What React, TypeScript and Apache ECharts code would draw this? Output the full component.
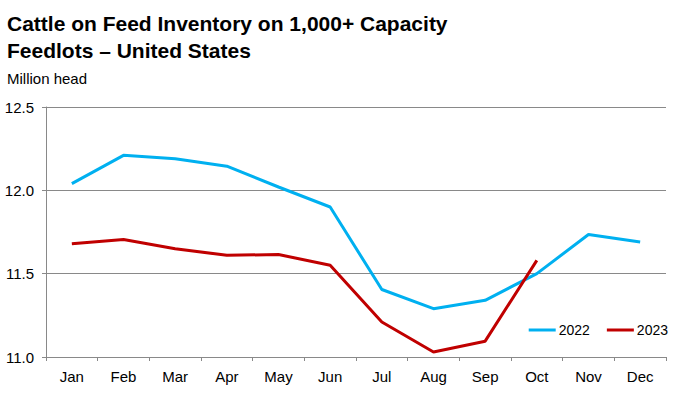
import React, { useEffect, useRef } from "react";
import * as echarts from "echarts";

const months = ["Jan", "Feb", "Mar", "Apr", "May", "Jun", "Jul", "Aug", "Sep", "Oct", "Nov", "Dec"];
const values2022 = [12.04, 12.21, 12.19, 12.145, 12.02, 11.9, 11.405, 11.29, 11.34, 11.5, 11.735, 11.69];
const values2023 = [11.68, 11.705, 11.65, 11.61, 11.615, 11.55, 11.21, 11.03, 11.095, 11.58];
const yTicks = { min: 11.0, max: 12.5, interval: 0.5 };

const FONT = "Liberation Sans, Arial, sans-serif";

export default function App() {
  const ref = useRef<HTMLDivElement>(null);
  useEffect(() => {
    if (!ref.current) return;
    const chart = echarts.init(ref.current, undefined, { renderer: "svg" });
    chart.setOption({
      animation: false,
      backgroundColor: "#ffffff",
      textStyle: { fontFamily: FONT },
      title: [
        {
          text: "Cattle on Feed Inventory on 1,000+ Capacity\nFeedlots – United States",
          left: 2,
          top: 5,
          textStyle: { fontFamily: FONT, fontSize: 21, fontWeight: "bold", color: "#000", lineHeight: 27 },
        },
        {
          text: "Million head",
          left: 2,
          top: 66,
          textStyle: { fontFamily: FONT, fontSize: 15, fontWeight: "normal", color: "#000" },
        },
      ],
      legend: {
        right: 2,
        top: 318,
        itemWidth: 27,
        itemHeight: 3,
        itemGap: 17,
        icon: "rect",
        textStyle: { fontFamily: FONT, fontSize: 14, color: "#000", padding: [0, 0, 0, -2] },
        data: ["2022", "2023"],
      },
      grid: { left: 46, right: 9, top: 107, bottom: 38, containLabel: false },
      xAxis: {
        type: "category",
        data: months,
        boundaryGap: true,
        axisLine: { show: true, lineStyle: { color: "#898989", width: 1 } },
        axisTick: { show: true, length: 4, lineStyle: { color: "#898989" }, alignWithLabel: false },
        axisLabel: { color: "#000", fontSize: 15, fontFamily: FONT, margin: 12 },
      },
      yAxis: {
        type: "value",
        min: yTicks.min,
        max: yTicks.max,
        interval: yTicks.interval,
        axisLine: { show: true, lineStyle: { color: "#898989", width: 1 } },
        axisTick: { show: true, length: 4, lineStyle: { color: "#898989" } },
        splitLine: { show: true, lineStyle: { color: "#898989", width: 1 } },
        axisLabel: {
          color: "#000",
          fontSize: 15,
          fontFamily: FONT,
          margin: 12,
          formatter: (v: number) => v.toFixed(1),
        },
      },
      series: [
        {
          name: "2022",
          type: "line",
          data: values2022,
          symbol: "none",
          lineStyle: { color: "#00B0F0", width: 3 },
          itemStyle: { color: "#00B0F0" },
        },
        {
          name: "2023",
          type: "line",
          data: values2023,
          symbol: "none",
          lineStyle: { color: "#C00000", width: 3 },
          itemStyle: { color: "#C00000" },
        },
      ],
    });
    return () => chart.dispose();
  }, []);
  return (
    <div
      ref={ref}
      style={{ position: "absolute", left: 0, top: 0, width: 675, height: 395 }}
    />
  );
}
